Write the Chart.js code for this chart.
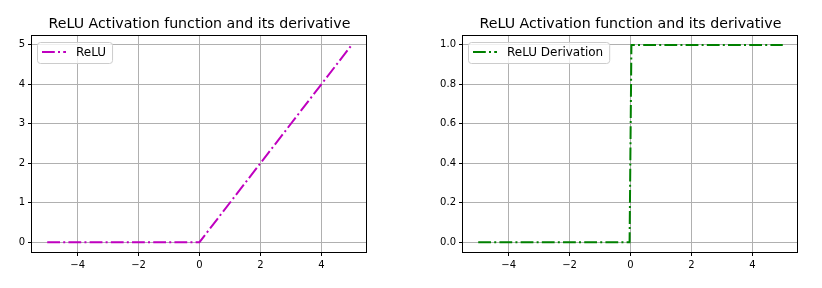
<!DOCTYPE html>
<html>
<head>
<meta charset="utf-8">
<script src="https://cdn.jsdelivr.net/npm/chart.js@4"></script>
<style>
  body { margin: 0; background: #fff; }
  #wrap { position: relative; width: 822px; height: 288px; }
  .box { position: absolute; top: 0; width: 411px; height: 288px; }
</style>
</head>
<body>
<div id="wrap">
  <div class="box" style="left:0"><canvas id="reluChart" width="411" height="288"></canvas></div>
  <div class="box" style="left:411px"><canvas id="derivChart" width="411" height="288"></canvas></div>
</div>
<script>
// data
const titleText = "ReLU Activation function and its derivative";
const reluX = [-5, 0, 5];
const reluY = [0, 0, 5];
const derivX = [-5, -0.03, 0.03, 5];
const derivY = [0, 0, 1, 1];
const xTicks = [-4, -2, 0, 2, 4];
const reluTicks = [0, 1, 2, 3, 4, 5];
const derivTicks = [0, 0.2, 0.4, 0.6, 0.8, 1.0];

Chart.defaults.font.family = "'DejaVu Sans', sans-serif";
Chart.defaults.color = "#000";

const dashDot = [12.8, 3.2, 2, 3.2];

function fmt(v, digits) {
  const s = Math.abs(v).toFixed(digits);
  return v < 0 ? "\u2212" + s : s;
}

// black frame around the plot area
const frame = {
  id: "frame",
  afterDatasetsDraw(chart) {
    const a = chart.chartArea;
    const ctx = chart.ctx;
    ctx.save();
    ctx.strokeStyle = "#000";
    ctx.lineWidth = 1;
    ctx.strokeRect(Math.round(a.left) - 0.5, Math.round(a.top) + 0.5,
      Math.round(a.right - a.left), Math.round(a.bottom - a.top));
    ctx.restore();
  }
};

// legend drawn inside the plot, top-left like matplotlib
const insideLegend = {
  id: "insideLegend",
  afterDraw(chart) {
    const ctx = chart.ctx;
    const a = chart.chartArea;
    const ds = chart.data.datasets[0];
    ctx.save();
    ctx.font = "12px 'DejaVu Sans'";
    const tw = ctx.measureText(ds.label).width;
    const x = Math.round(a.left) + 5, y = Math.round(a.top) + 7;
    const w = 39 + tw + 6, h = 21;
    ctx.beginPath();
    ctx.roundRect(x + 0.5, y + 0.5, w, h, 3);
    ctx.fillStyle = "rgba(255,255,255,0.8)";
    ctx.fill();
    ctx.strokeStyle = "#cccccc";
    ctx.lineWidth = 1;
    ctx.stroke();
    ctx.beginPath();
    ctx.setLineDash(dashDot);
    ctx.strokeStyle = ds.borderColor;
    ctx.lineWidth = 2;
    ctx.moveTo(x + 5, y + 10);
    ctx.lineTo(x + 29, y + 10);
    ctx.stroke();
    ctx.setLineDash([]);
    ctx.fillStyle = "#000";
    ctx.textBaseline = "middle";
    ctx.fillText(ds.label, x + 39, y + 11);
    ctx.restore();
  }
};

function makeChart(id, xs, ys, label, color, yTicks, digits, yMin, yMax, yWidth, padRight) {
  const ctx = document.getElementById(id).getContext("2d");
  return new Chart(ctx, {
    type: "scatter",
    data: {
      datasets: [{
        label: label,
        data: xs.map((x, i) => ({ x: x, y: ys[i] })),
        showLine: true,
        borderColor: color,
        backgroundColor: color,
        borderWidth: 2,
        borderDash: dashDot,
        borderCapStyle: "butt",
        pointRadius: 0,
        tension: 0
      }]
    },
    options: {
      responsive: false,
      animation: false,
      layout: { padding: { left: 0, right: padRight, top: 0, bottom: 0 } },
      scales: {
        x: {
          type: "linear",
          min: -5.5,
          max: 5.5,
          afterBuildTicks: s => { s.ticks = xTicks.map(v => ({ value: v })); },
          afterFit: s => { s.height = 36; },
          ticks: { callback: v => fmt(v, 0), font: { size: 10 }, padding: 3, maxRotation: 0, autoSkip: false, color: "#000" },
          grid: { color: "#b0b0b0", lineWidth: 1, tickLength: 4, tickColor: "#000", drawTicks: true },
          border: { display: false }
        },
        y: {
          type: "linear",
          min: yMin,
          max: yMax,
          afterBuildTicks: s => { s.ticks = yTicks.map(v => ({ value: v })); },
          afterFit: s => { s.width = yWidth; },
          ticks: { callback: v => fmt(v, digits), font: { size: 10 }, padding: 3, autoSkip: false, color: "#000" },
          grid: { color: "#b0b0b0", lineWidth: 1, tickLength: 4, tickColor: "#000", drawTicks: true },
          border: { display: false }
        }
      },
      plugins: {
        legend: { display: false },
        tooltip: { enabled: false },
        title: {
          display: true,
          text: titleText,
          fullSize: false,
          color: "#000",
          font: { size: 14.2, weight: "normal" },
          padding: { top: 16, bottom: 2 }
        }
      }
    },
    plugins: [frame, insideLegend]
  });
}

makeChart("reluChart", reluX, reluY, "ReLU", "#bf00bf", reluTicks, 0, -0.25, 5.25, 32, 44);
makeChart("derivChart", derivX, derivY, "ReLU Derivation", "#008000", derivTicks, 1, -0.05, 1.05, 52, 24);
</script>
</body>
</html>
